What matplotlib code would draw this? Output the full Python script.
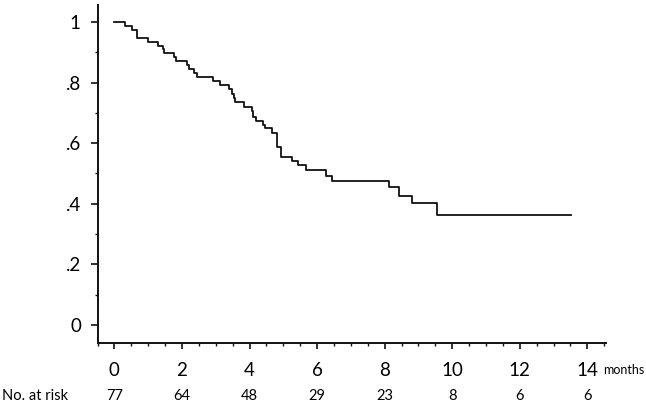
import numpy as np
import matplotlib
matplotlib.use("Agg")
import matplotlib.pyplot as plt
from matplotlib.ticker import MultipleLocator, FixedLocator

plt.rcParams['font.family'] = ['Lato', 'DejaVu Sans']

# step times (months) and survival after each step
times = [0, 0.30, 0.52, 0.66, 0.99, 1.29, 1.45, 1.47, 1.75, 1.83, 2.14, 2.21,
         2.37, 2.44, 2.93, 3.13, 3.40, 3.47, 3.54, 3.58, 3.84, 4.06, 4.09,
         4.19, 4.39, 4.46, 4.66, 4.81, 4.92, 5.25, 5.44, 5.67, 6.26, 6.43,
         8.14, 8.42, 8.80, 9.56, 13.53]
surv = [1.0, 0.987, 0.974, 0.948, 0.935, 0.922, 0.909, 0.896, 0.883, 0.870,
        0.857, 0.844, 0.831, 0.818, 0.805, 0.792, 0.778, 0.763, 0.750, 0.735,
        0.718, 0.705, 0.687, 0.674, 0.660, 0.649, 0.633, 0.588, 0.556, 0.542,
        0.528, 0.512, 0.492, 0.476, 0.455, 0.427, 0.403, 0.363, 0.363]

risk_times = [0, 2, 4, 6, 8, 10, 12, 14]
at_risk = [77, 64, 48, 29, 23, 8, 6, 6]
ytick_vals = [0, 0.2, 0.4, 0.6, 0.8, 1]
ytick_labels = ['0', '.2', '.4', '.6', '.8', '1']

fig = plt.figure(figsize=(6.46, 4.05), dpi=100)
ax = fig.add_axes([0.151, 0.153, 0.787, 0.835])

ax.step(times, surv, where='post', color='#111111', lw=1.3)

ax.set_xlim(-0.5, 14.55)
ax.set_ylim(-0.059, 1.056)

ax.spines['top'].set_visible(False)
ax.spines['right'].set_visible(False)
for s in ['left', 'bottom']:
    ax.spines[s].set_linewidth(1.4)
    ax.spines[s].set_color('#111111')

ax.set_xticks(risk_times)
ax.set_xticklabels([str(t) for t in risk_times])
ax.xaxis.set_minor_locator(MultipleLocator(0.5))
ax.set_yticks(ytick_vals)
ax.set_yticklabels(ytick_labels)
ax.yaxis.set_minor_locator(FixedLocator([0.1, 0.3, 0.5, 0.7, 0.9]))

ax.tick_params(axis='x', which='major', direction='out', length=4, width=1.2,
               pad=10, labelsize=13.5, color='#111111')
ax.tick_params(axis='y', which='major', direction='out', length=5, width=1.2,
               pad=7, labelsize=13.5, color='#111111')
ax.tick_params(which='minor', direction='out', length=2.2, width=1.0, color='#111111')

tr = ax.get_xaxis_transform()
ax.text(14.48, -0.081, 'months', transform=tr, fontsize=9, va='center', ha='left')
fig.text(0.003, 1 - 396 / 405, 'No. at risk', fontsize=10.5, va='center', ha='left')
for t, n in zip(risk_times, at_risk):
    ax.text(t, -0.157, str(n), transform=tr, fontsize=10.5, ha='center', va='center')

fig.savefig('out.png', dpi=100)
